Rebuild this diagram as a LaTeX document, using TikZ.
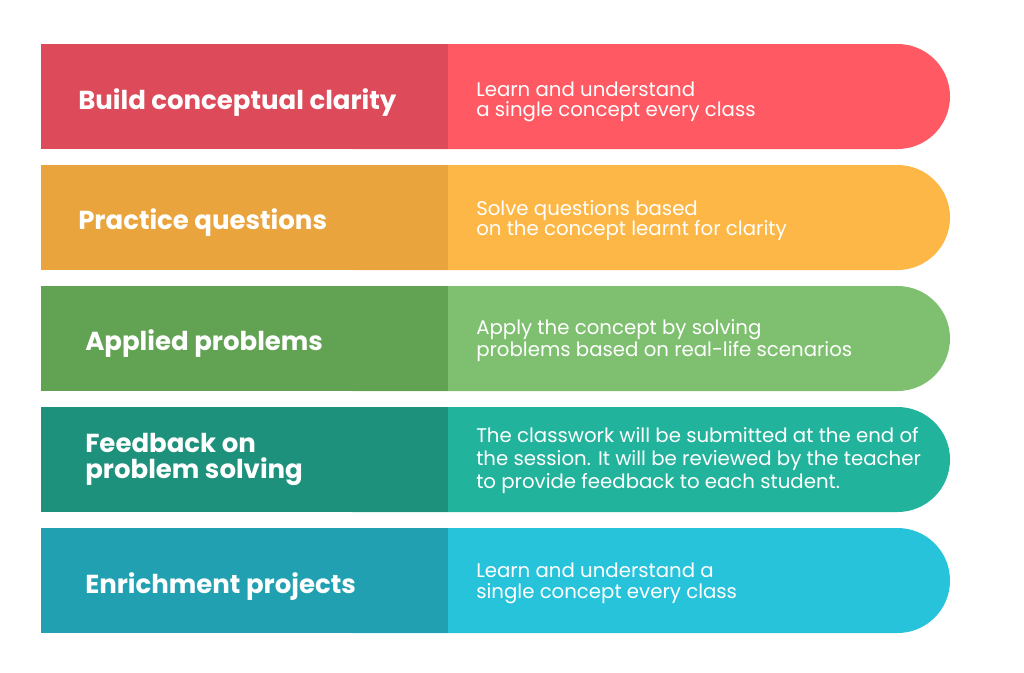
\documentclass[tikz,border=0pt]{standalone}
\usepackage{fontspec}
\setmainfont{Poppins}
\definecolor{rowAL}{HTML}{DD4A5A}
\definecolor{rowAR}{HTML}{FF5A63}
\definecolor{rowBL}{HTML}{EAA43D}
\definecolor{rowBR}{HTML}{FDB746}
\definecolor{rowCL}{HTML}{62A353}
\definecolor{rowCR}{HTML}{7EC06F}
\definecolor{rowDL}{HTML}{1D917B}
\definecolor{rowDR}{HTML}{22B39C}
\definecolor{rowEL}{HTML}{20A0B0}
\definecolor{rowER}{HTML}{27C3DB}
\tikzset{
  leftbox/.style={draw=none, rectangle, anchor=north west, minimum width=305.25pt, minimum height=78.75pt, inner sep=0pt, outer sep=0pt},
  titletext/.style={text=white, font=\fontsize{19.5}{19.5}\selectfont\bfseries, align=left, inner sep=0pt, anchor=base west},
  desctext/.style={text=white, font=\fontsize{14.8}{15.3}\selectfont, align=left, inner sep=0pt, anchor=base west},
  pill/.style={rounded corners=39.375pt},
}
\newcommand{\rightpill}[3]{%
  \fill[#1, pill] (300,#2) -- (950,#2) -- (950,#3) -- (300,#3) -- cycle;}
\begin{document}
\begin{tikzpicture}[x=0.75pt,y=-0.75pt]
\useasboundingbox (0,0) rectangle (1024,672);
% row 1
\rightpill{rowAR}{44}{149}
\node[leftbox, fill=rowAL] (l1) at (41,44) {};
\node[titletext] (t1) at (78,109.5) {Build conceptual clarity};
\node[desctext] (d1) at (476,116.5) {Learn and understand\\a single concept every class};
% row 2
\rightpill{rowBR}{165}{270}
\node[leftbox, fill=rowBL] (l2) at (41,165) {};
\node[titletext] (t2) at (78,229.5) {Practice questions};
\node[desctext] (d2) at (476,235.5) {Solve questions based\\on the concept learnt for clarity};
% row 3
\rightpill{rowCR}{286}{391}
\node[leftbox, fill=rowCL] (l3) at (41,286) {};
\node[titletext] (t3) at (85,350) {Applied problems};
\node[desctext, font=\fontsize{14.8}{13.5}\selectfont] (d3) at (476,356) {Apply the concept by solving\\problems based on real-life scenarios};
% row 4
\rightpill{rowDR}{407}{512}
\node[leftbox, fill=rowDL] (l4) at (41,407) {};
\node[titletext] (t4) at (85,478) {Feedback on\\problem solving};
\node[desctext, font=\fontsize{14.8}{17.3}\selectfont] (d4) at (476,488.5) {The classwork will be submitted at the end of\\the session. It will be reviewed by the teacher\\to provide feedback to each student.};
% row 5
\rightpill{rowER}{528}{633}
\node[leftbox, fill=rowEL] (l5) at (41,528) {};
\node[titletext] (t5) at (85,593) {Enrichment projects};
\node[desctext] (d5) at (476,598) {Learn and understand a\\single concept every class};
\end{tikzpicture}
\end{document}
